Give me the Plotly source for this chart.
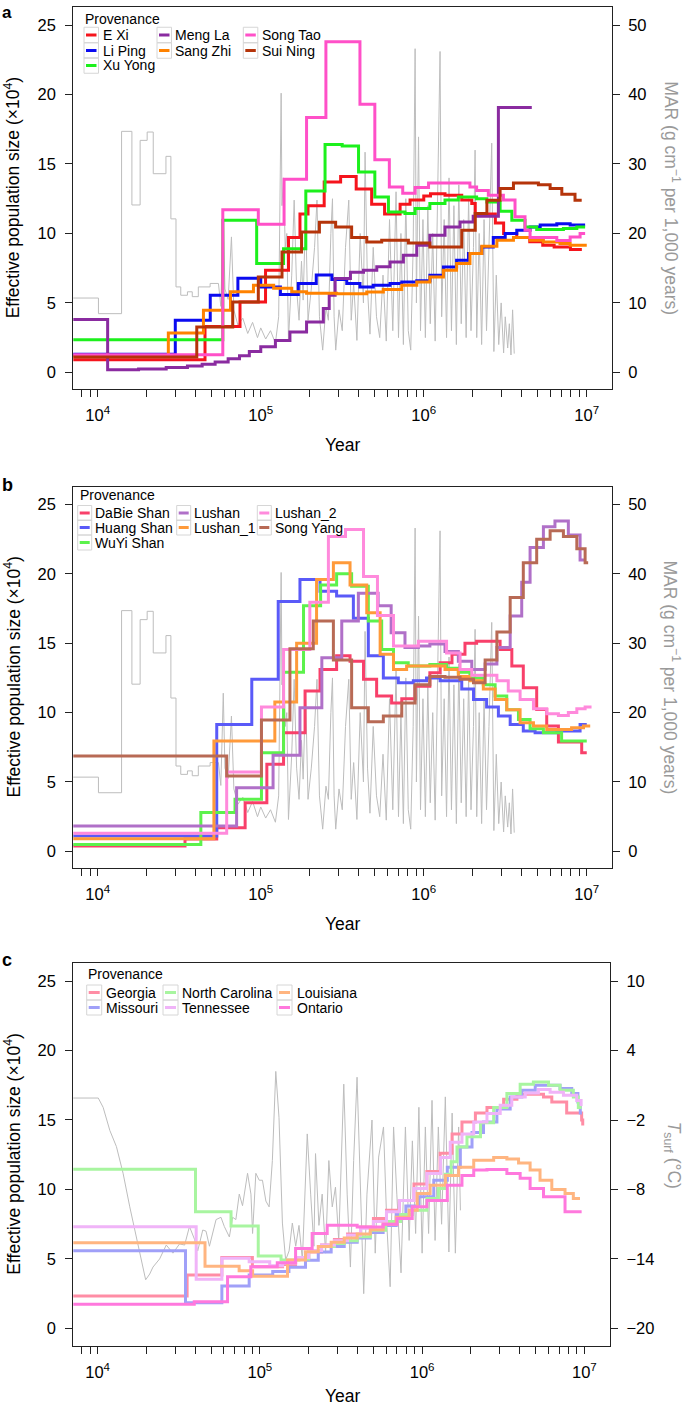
import plotly.graph_objects as go

W, H = 685, 1408
FONT = "Liberation Sans, Arial, Helvetica, sans-serif"

# ====================== DATA ======================
# ---- Panel a: provenances (year, Ne x10^4) ----
exi_year = [6310, 45500, 74600, 107000, 148000, 174000, 195000, 245000, 309000, 385000, 479000, 575000, 716000, 824000,
            1000000, 1100000, 1350000, 1710000, 1970000, 2070000, 2750000, 3090000, 3720000, 4470000, 5370000, 6310000, 7940000, 9330000]
exi_ne = [0.9, 3.3, 5.07, 7.35, 9.7, 11.4, 12.0, 13.7, 14.1, 13.2, 12.1, 11.4, 12.1, 12.4,
          12.7, 12.85, 12.75, 12.4, 12.15, 11.4, 10.75, 10.0, 9.7, 9.4, 9.15, 9.03, 8.84, 8.84]

liping_year = [6310, 29900, 49000, 72400, 100000, 132000, 170000, 219000, 273000, 337000, 406000, 490000, 621000, 733000,
               906000, 1090000, 1320000, 1590000, 1880000, 2270000, 2670000, 3160000, 3720000, 4490000, 5180000, 6550000, 7910000, 9770000]
liping_ne = [1.3, 3.75, 5.55, 6.78, 6.15, 5.6, 6.39, 7.0, 6.68, 6.39, 6.15, 6.27, 6.39, 6.5,
             6.6, 6.99, 7.59, 8.07, 8.55, 9.03, 9.7, 10.0, 10.23, 10.47, 10.6, 10.7, 10.6, 10.6]

xuyong_year = [6310, 58500, 94400, 138000, 189000, 248000, 316000, 398000, 501000, 607000, 767000, 885000,
               1090000, 1350000, 1630000, 2110000, 2440000, 2940000, 3470000, 4180000, 4930000, 7190000, 8690000, 9770000]
xuyong_ne = [2.35, 10.95, 7.83, 8.9, 13.06, 16.4, 16.3, 14.43, 12.63, 11.55, 11.43, 11.8,
             12.15, 12.4, 12.63, 12.5, 12.27, 11.6, 10.95, 10.47, 10.28, 10.35, 10.47, 10.47]

mengla_year = [6310, 11500, 17800, 26300, 35500, 43700, 52500, 63100, 74100, 85100, 100000, 123000, 151000, 191000, 242000,
               263000, 286000, 355000, 427000, 515000, 621000, 750000, 906000, 1090000, 1350000, 1670000, 2010000, 2870000, 4600000]
mengla_ne = [3.8, 0.19, 0.25, 0.35, 0.45, 0.58, 0.75, 0.98, 1.2, 1.5, 1.85, 2.3, 2.9, 3.63, 4.59,
             5.55, 6.75, 7.2, 7.35, 7.6, 7.95, 8.43, 9.15, 9.87, 10.47, 10.83, 11.24, 19.07, 19.07]

sangzhi_year = [6310, 27100, 44500, 65200, 90200, 120000, 155000, 191000, 292000, 447000, 565000, 733000, 906000,
                1090000, 1320000, 1590000, 1920000, 2270000, 2810000, 3550000, 4490000, 5420000, 6850000, 7910000, 10000000]
sangzhi_ne = [1.17, 2.83, 4.47, 5.8, 6.27, 6.05, 5.8, 5.7, 5.65, 5.79, 5.96, 6.27, 6.5,
              6.87, 7.35, 7.83, 8.55, 9.08, 9.51, 9.7, 9.51, 9.39, 9.27, 9.15, 9.15]

songtao_year = [6310, 58500, 96600, 139000, 191000, 251000, 406000, 501000, 615000, 743000, 885000, 1070000,
                1920000, 2110000, 2490000, 3080000, 3630000, 4180000, 4490000, 6550000, 7910000, 9100000, 9770000]
songtao_ne = [1.27, 11.7, 10.66, 13.9, 18.35, 23.8, 19.3, 15.3, 13.35, 12.9, 13.3, 13.64,
              13.35, 13.1, 12.75, 12.4, 11.2, 10.23, 9.7, 9.5, 9.75, 10.0, 10.0]

suining_year = [6310, 40500, 67300, 96600, 135000, 178000, 229000, 288000, 361000, 447000, 552000, 805000,
                1090000, 1710000, 2070000, 2440000, 2940000, 3550000, 5050000, 5960000, 7030000, 8470000, 9310000]
suining_ne = [1.1, 3.27, 5.07, 6.87, 8.67, 10.1, 10.8, 10.47, 9.7, 9.39, 9.51, 9.32,
              9.03, 10.23, 11.43, 12.39, 13.23, 13.64, 13.5, 13.23, 12.82, 12.39, 12.39]

# ---- Panel b ----
dabie_year = [6310, 34300, 53700, 80200, 109000, 138000, 187000, 231000, 292000, 353000, 427000, 514000, 635000, 733000,
              885000, 1090000, 1260000, 1490000, 1790000, 2110000, 2940000, 3470000, 4080000, 4930000, 5680000, 6700000, 9310000, 10000000]
dabie_ne = [0.38, 0.9, 1.7, 3.5, 6.27, 8.55, 11.55, 13.1, 14.1, 13.7, 12.4, 11.2, 10.7, 11.0,
            11.9, 12.87, 13.6, 14.2, 15.0, 15.15, 14.55, 13.35, 11.8, 10.23, 9.03, 7.88, 7.1, 7.1]

huang_year = [6310, 53700, 88100, 128000, 174000, 231000, 292000, 370000, 457000, 565000, 698000, 863000,
              1040000, 1260000, 1710000, 2020000, 2430000, 2870000, 3390000, 4080000, 4820000, 6550000, 9100000, 10000000]
huang_ne = [1.1, 9.15, 12.4, 18.0, 19.6, 18.75, 18.4, 16.8, 14.1, 12.5, 12.15, 12.3,
            12.5, 12.3, 11.7, 10.95, 10.4, 9.75, 9.15, 8.67, 8.55, 8.67, 9.15, 9.15]

wuyi_year = [6310, 42900, 69500, 101000, 138000, 183000, 233000, 292000, 361000, 457000, 552000, 652000, 803000,
             1090000, 1380000, 1630000, 1920000, 2320000, 2740000, 3230000, 3810000, 4490000, 5420000, 7010000, 10000000]
wuyi_ne = [0.5, 2.8, 3.75, 7.1, 12.9, 17.7, 19.2, 20.0, 19.1, 16.6, 14.55, 13.6, 13.35,
           13.47, 13.2, 12.9, 12.5, 12.0, 11.2, 10.2, 9.5, 8.84, 8.55, 7.95, 7.95]

lushan_year = [6310, 71100, 119000, 174000, 237000, 314000, 397000, 525000, 631000, 767000, 927000, 1090000,
               1350000, 1630000, 1970000, 2380000, 2810000, 3390000, 3990000, 4490000, 5420000, 6380000, 7710000, 9100000, 9770000]
lushan_ne = [1.83, 4.59, 6.92, 10.35, 13.95, 16.6, 18.6, 17.7, 15.75, 14.7, 14.8, 14.95,
             14.4, 13.7, 13.1, 13.5, 14.7, 16.96, 19.4, 21.9, 23.4, 23.8, 22.8, 21.0, 21.0]

lushan1_year = [6310, 51600, 122000, 166000, 220000, 279000, 353000, 447000, 540000, 652000, 785000, 1350000,
                1630000, 1920000, 2320000, 2740000, 3230000, 3900000, 4710000, 5680000, 8070000, 9550000, 10500000]
lushan1_ne = [0.91, 7.95, 10.76, 15.0, 19.6, 20.8, 19.2, 17.2, 14.2, 13.1, 13.35, 13.1,
              12.6, 12.3, 11.7, 10.95, 10.2, 9.27, 9.03, 8.79, 8.9, 9.03, 9.03]

lushan2_year = [6310, 61800, 101000, 138000, 200000, 260000, 331000, 427000, 520000, 652000, 927000, 1380000,
                1670000, 1970000, 2810000, 3300000, 3900000, 4710000, 5680000, 6700000, 7710000, 8690000, 9770000, 10700000]
lushan2_ne = [1.3, 5.72, 10.4, 14.55, 17.96, 22.7, 23.2, 19.8, 17.0, 14.8, 15.15, 14.3,
              13.1, 12.7, 12.3, 11.55, 10.95, 10.28, 9.92, 9.8, 10.0, 10.28, 10.4, 10.4]

songyang_year = [6310, 61800, 101000, 151000, 210000, 279000, 361000, 457000, 565000, 733000, 885000, 1090000,
                 1350000, 1670000, 2020000, 2380000, 2810000, 3390000, 4080000, 4930000, 5960000, 7190000, 8690000, 9770000, 10200000]
songyang_ne = [6.87, 5.43, 9.46, 14.6, 16.6, 13.8, 10.35, 9.34, 9.75, 10.7, 12.0, 12.6,
               12.55, 12.4, 12.15, 13.8, 15.8, 18.3, 20.8, 22.5, 23.1, 22.7, 21.8, 20.8, 20.8]

# ---- Panel c ----
georgia_year = [6310, 35600, 58300, 89900, 138000, 166000, 200000, 240000, 288000, 347000, 417000, 501000, 603000, 724000,
                891000, 1070000, 1290000, 1530000, 1760000, 2130000, 2510000, 3180000, 3840000, 5600000, 6300000, 7780000, 9620000, 9770000]
georgia_ne = [2.33, 3.84, 5.1, 4.43, 4.6, 5.0, 5.5, 6.0, 6.4, 6.8, 7.3, 7.9, 8.5, 9.2,
              10.4, 11.3, 12.6, 14.0, 14.86, 15.5, 15.9, 16.5, 16.85, 16.66, 16.3, 15.5, 15.0, 14.6]

missouri_year = [6310, 34800, 58300, 85900, 120000, 151000, 191000, 229000, 275000, 331000, 398000, 479000, 575000, 692000, 794000,
                 955000, 1180000, 1430000, 1720000, 2030000, 2390000, 2890000, 3490000, 4120000, 4980000, 7080000, 8360000, 9120000, 9440000, 9660000]
missouri_ne = [5.59, 1.85, 3.05, 3.84, 4.1, 4.4, 4.9, 5.5, 5.9, 6.2, 6.5, 6.9, 7.4, 8.2, 8.8,
               9.47, 10.67, 11.6, 13.06, 14.1, 14.86, 15.8, 16.66, 17.14, 17.5, 17.26, 16.9, 16.3, 15.5, 15.5]

ncarolina_year = [6310, 40100, 66400, 97700, 135000, 174000, 200000, 240000, 288000, 331000, 398000, 481000, 596000, 736000, 869000,
                  1070000, 1260000, 1390000, 1510000, 1640000, 1890000, 2290000, 2760000, 3330000, 4020000, 4850000, 6010000, 7080000, 8550000, 9180000, 9620000]
ncarolina_ne = [11.46, 8.39, 7.36, 5.2, 4.92, 5.0, 5.6, 5.9, 6.1, 6.3, 6.6, 7.07, 7.7, 8.2, 8.5,
                9.35, 10.07, 11.1, 12.0, 13.06, 13.8, 14.8, 15.9, 16.9, 17.57, 17.74, 17.5, 17.14, 16.66, 15.9, 15.9]

tennessee_year = [6310, 40500, 58300, 85900, 115000, 138000, 166000, 200000, 240000, 288000, 347000, 417000, 501000, 603000, 724000,
                  889000, 1070000, 1300000, 1490000, 1760000, 2080000, 2510000, 3030000, 3570000, 4320000, 5210000, 6150000, 7430000, 8970000, 9550000]
tennessee_ne = [7.31, 3.53, 5.04, 4.8, 4.5, 4.7, 5.1, 5.6, 6.0, 6.3, 6.7, 7.2, 7.7, 8.4, 9.2,
                10.07, 11.15, 12.3, 13.4, 14.0, 14.86, 15.46, 16.06, 16.66, 16.95, 17.2, 17.0, 16.78, 16.4, 16.0]

louisiana_year = [6310, 45900, 74500, 90200, 148000, 191000, 229000, 275000, 331000, 398000, 479000, 575000, 692000, 832000,
                  933000, 1120000, 1390000, 1680000, 2080000, 2760000, 3330000, 3930000, 4630000, 5330000, 6300000, 7600000, 8550000, 9400000]
louisiana_ne = [6.16, 4.48, 4.15, 3.76, 4.92, 5.52, 5.9, 6.2, 6.5, 6.8, 7.1, 7.5, 8.0, 8.5,
                9.7, 10.3, 11.0, 11.6, 12.1, 12.3, 12.2, 11.9, 11.4, 10.67, 10.0, 9.7, 9.35, 9.35]

ontario_year = [6310, 39400, 63200, 87900, 128000, 166000, 210000, 260000, 398000, 575000, 701000, 869000,
                1070000, 1430000, 1760000, 2080000, 2510000, 3330000, 4020000, 4630000, 5600000, 7600000, 9620000]
ontario_ne = [1.73, 1.92, 3.72, 4.43, 4.72, 5.75, 6.83, 7.43, 7.3, 7.5, 7.9, 8.75,
              9.2, 10.3, 11.0, 11.4, 11.43, 11.15, 10.8, 10.07, 9.47, 8.39, 8.39]

# ---- Mass accumulation rate (MAR, g cm^-1 per 1,000 years), panels a & b ----
mar_step = [(6310, 10.7), (10100, 8.45), (14000, 34.7), (16200, 24.1), (18200, 33.4), (20100, 34.6), (21900, 28.6),
            (26200, 31.1), (28100, 22.1), (30200, 12.3), (32300, 11.1), (35500, 11.6), (38000, 10.9), (41400, 12.3),
            (48900, 12.8), (55000, 12.8)]
mar_jag = [(55000, 12.8), (56900, 9.5), (58900, 22.8), (60300, 12.0), (63100, 10.5), (66100, 19.5), (68400, 9.0),
           (72400, 6.8), (77600, 7.8), (83200, 5.6), (89100, 7.2), (95500, 5.0), (100000, 6.4), (107200, 4.8),
           (114800, 6.0), (123000, 4.2), (128800, 8.0), (131800, 36.8), (133400, 40.2), (134900, 24.0), (138000, 28.0),
           (141300, 18.0), (144500, 20.0), (147900, 4.6), (154900, 14.0), (160300, 24.8), (166000, 12.0), (171800, 7.5),
           (177800, 16.0), (182000, 10.4), (188400, 22.9), (195000, 7.5), (204200, 12.0), (213800, 18.0), (221300, 24.8),
           (229100, 8.0), (239900, 3.2), (251200, 9.4), (260000, 7.5), (269200, 20.0), (275400, 25.0), (281800, 8.0),
           (288400, 3.2), (302000, 9.0), (316200, 6.0), (331100, 18.0), (346700, 24.8), (358900, 7.5), (371500, 12.8),
           (389000, 4.6), (407400, 20.0), (426600, 10.0), (436500, 31.7), (451900, 12.0), (467700, 5.5), (489800, 18.0),
           (512900, 8.0), (537000, 5.0), (562300, 14.0), (588800, 4.5), (616600, 22.0), (645700, 6.0), (676100, 26.0),
           (699800, 5.0), (724400, 20.0), (749900, 4.0), (776200, 25.0), (803500, 6.0), (831800, 3.2), (861000, 18.0),
           (885100, 46.6), (901600, 10.0), (929000, 33.9), (955000, 6.0), (988500, 22.0), (1023000, 5.0), (1059000, 24.0),
           (1096000, 7.0), (1135000, 20.0), (1175000, 4.5), (1216000, 26.0), (1259000, 46.2), (1288000, 8.0),
           (1334000, 22.0), (1380000, 5.0), (1429000, 28.0), (1479000, 6.0), (1531000, 24.0), (1585000, 4.0),
           (1641000, 27.0), (1698000, 7.0), (1758000, 22.0), (1820000, 5.0), (1884000, 25.0), (1950000, 6.0),
           (2018000, 18.0), (2065000, 32.0), (2113000, 5.0), (2188000, 20.0), (2265000, 4.0), (2344000, 22.0),
           (2427000, 6.0), (2512000, 18.0), (2612000, 33.0), (2692000, 3.0), (2786000, 14.0), (2884000, 4.0),
           (2985000, 10.0), (3090000, 2.8), (3162000, 8.0), (3273000, 3.5), (3350000, 7.0), (3428000, 2.5),
           (3508000, 9.0), (3589000, 2.7)]

# ---- Surface temperature (T_surf, deg C), panel c ----
tsurf = [(6310, -0.1), (10090, -0.1), (10810, -0.9), (11890, -2.9), (13060, -4.3), (14350, -6.6), (15780, -9.5),
         (17340, -12.1), (18620, -14.1), (19770, -15.8), (20940, -15.3), (21930, -14.7), (24100, -14.0), (26490, -12.8),
         (29110, -13.5), (31990, -12.7), (34360, -12.8), (36810, -11.2), (39540, -12.3), (41400, -13.3), (44460, -11.5),
         (46560, -11.6), (48870, -12.9), (53700, -10.6), (57540, -10.4), (60390, -11.2), (64860, -12.1), (67920, -10.4),
         (71120, -10.6), (74640, -8.4), (78160, -9.4), (83950, -6.6), (88100, -8.4), (90160, -11.8), (94410, -6.6),
         (99080, -7.2), (103700, -7.2), (108900, -9.0), (114000, -9.5), (119400, -5.5), (125300, 2.2), (131200, -1.8),
         (137700, -10.9), (144200, -14.1), (151400, -13.3), (158500, -10.9), (166300, -12.9), (174200, -11.1),
         (182800, -14.1), (195900, -3.2), (205600, -8.4), (215300, -12.9), (220300, -4.9), (231200, -11.1),
         (242100, -8.4), (254100, -13.5), (266100, -5.5), (279300, -9.5), (292400, -7.8), (306200, -12.4),
         (328900, 1.1), (345100, -8.4), (361400, -14.7), (378400, -5.5), (397200, 1.7), (415900, -8.4),
         (436500, -17.0), (457100, -8.4), (490900, -2.0), (514000, -13.5), (539500, -5.2), (578100, -2.6),
         (606700, -11.2), (635300, -16.4), (666800, -2.6), (698200, -8.4), (741300, -15.2), (788900, -2.6),
         (831800, -12.4), (871000, -3.8), (912000, -11.8), (955000, -0.9), (1000000, -13.5), (1047000, -2.6),
         (1096000, -11.8), (1151000, -0.3), (1202000, -12.4), (1259000, -2.6), (1318000, -11.0), (1390000, 0.0),
         (1462000, -13.4), (1531000, -1.4), (1603000, -13.5), (1679000, -2.6), (1722000, -9.8)]

# names / colours
a_names = ["E Xi", "Li Ping", "Xu Yong", "Meng La", "Sang Zhi", "Song Tao", "Sui Ning"]
a_colors = ["#F5141C", "#0B0BF0", "#1CF01C", "#8A2BA0", "#FF8200", "#FF50C8", "#B5340A"]
b_names = ["DaBie Shan", "Huang Shan", "WuYi Shan", "Lushan", "Lushan_1", "Lushan_2", "Song Yang"]
b_colors = ["#F8406A", "#5A5AF8", "#5CF24C", "#B070C8", "#FF9A3A", "#FF8ADC", "#B86A55"]
c_names = ["Georgia", "Missouri", "North Carolina", "Tennessee", "Louisiana", "Ontario"]
c_colors = ["#FF8DA5", "#A0A0F8", "#A8F5A0", "#F0B4F8", "#FFB580", "#FF78DD"]

a_data = [(exi_year, exi_ne), (liping_year, liping_ne), (xuyong_year, xuyong_ne), (mengla_year, mengla_ne),
          (sangzhi_year, sangzhi_ne), (songtao_year, songtao_ne), (suining_year, suining_ne)]
b_data = [(dabie_year, dabie_ne), (huang_year, huang_ne), (wuyi_year, wuyi_ne), (lushan_year, lushan_ne),
          (lushan1_year, lushan1_ne), (lushan2_year, lushan2_ne), (songyang_year, songyang_ne)]
c_data = [(georgia_year, georgia_ne), (missouri_year, missouri_ne), (ncarolina_year, ncarolina_ne),
          (tennessee_year, tennessee_ne), (louisiana_year, louisiana_ne), (ontario_year, ontario_ne)]

# ====================== FIGURE ======================
GREY = "#BDBDBD"
fig = go.Figure()


def unzip(pairs):
    return [p[0] for p in pairs], [p[1] for p in pairs]


def add_grey(pairs, xa, ya, shape):
    xs, ys = unzip(pairs)
    fig.add_trace(go.Scatter(x=xs, y=ys, mode="lines", xaxis=xa, yaxis=ya, hoverinfo="skip",
                             line=dict(color=GREY, width=1, shape=shape), showlegend=False))


def add_series(data, colors, names, xa, ya):
    for (xs, ys), col, nm in zip(data, colors, names):
        fig.add_trace(go.Scatter(x=xs, y=ys, mode="lines", name=nm, xaxis=xa, yaxis=ya, hoverinfo="skip",
                                 line=dict(color=col, width=3, shape="hv"), showlegend=False))


# Panel a
add_grey(mar_step, "x", "y", "hv")
add_grey(mar_jag, "x", "y", "linear")
add_series(a_data, a_colors, a_names, "x", "y2")
# Panel b
add_grey(mar_step, "x2", "y3", "hv")
add_grey(mar_jag, "x2", "y3", "linear")
add_series(b_data, b_colors, b_names, "x2", "y4")
# Panel c
add_grey(tsurf, "x3", "y5", "linear")
add_series(c_data, c_colors, c_names, "x3", "y6")

# ---- axes ----
LINE = "#222222"
major_vals = [10 ** k for k in range(4, 8)]
major_text = [f"10<sup>{k}</sup>" for k in range(4, 8)]
minor_vals = [m * 10 ** k for k in range(3, 8) for m in range(2, 10)]

tickfont = dict(family=FONT, size=16.5, color="black")


def xcfg(domain, anchor, rng):
    return dict(type="log", range=rng, domain=domain, anchor=anchor, tickmode="array",
                tickvals=major_vals, ticktext=major_text, ticks="outside", ticklen=7, tickwidth=1.2,
                tickcolor=LINE, showline=True, linecolor=LINE, linewidth=1.3, mirror=True,
                minor=dict(tickmode="array", tickvals=minor_vals, ticks="outside", ticklen=7, tickwidth=1.2,
                           tickcolor=LINE, showgrid=False),
                showgrid=False, zeroline=False, tickfont=tickfont, ticklabelstandoff=4)


def yright(domain, anchor, rng, vals):
    return dict(domain=domain, anchor=anchor, side="right", range=rng, tickmode="array", tickvals=vals,
                ticks="outside", ticklen=7, tickwidth=1.2, tickcolor=LINE, showline=True, linecolor=LINE,
                linewidth=1.3, showgrid=False, zeroline=False, tickfont=tickfont, ticklabelstandoff=5)


def yleft(over, anchor, rng):
    return dict(overlaying=over, anchor=anchor, side="left", range=rng, tickmode="array",
                tickvals=[0, 5, 10, 15, 20, 25], ticks="outside", ticklen=7, tickwidth=1.2, tickcolor=LINE,
                showline=True, linecolor=LINE, linewidth=1.3, showgrid=False, zeroline=False,
                tickfont=tickfont, ticklabelstandoff=6)


def dom_y(top_px, bot_px):
    return [1 - bot_px / H, 1 - top_px / H]


xdom_ab = [73.3 / W, 611.7 / W]
xdom_c = [73.3 / W, 610.0 / W]
ne_rng = [-1.22, 26.28]

layout_axes = dict(
    xaxis=xcfg(xdom_ab, "y", [3.85, 7.153]),
    yaxis=yright(dom_y(7.3, 389.3), "x", [-2.44, 52.56], [0, 10, 20, 30, 40, 50]),
    yaxis2=yleft("y", "x", ne_rng),
    xaxis2=xcfg(xdom_ab, "y3", [3.85, 7.153]),
    yaxis3=yright(dom_y(486.7, 868.3), "x2", [-2.44, 52.56], [0, 10, 20, 30, 40, 50]),
    yaxis4=yleft("y3", "x2", ne_rng),
    xaxis3=xcfg(xdom_c, "y5", [3.85, 7.158]),
    yaxis5=yright(dom_y(963.3, 1346.0), "x3", [-21.52, 11.54], [-20, -14, -8, -2, 4, 10]),
    yaxis6=yleft("y5", "x3", [-1.27, 26.28]),
)

# ---- annotations & legend shapes ----
ann, shapes = [], []


def P(x, y):
    return x / W, 1 - y / H


def text(t, x, y, size, color="black", angle=0, xanchor="center", yanchor="middle", bold=False):
    xx, yy = P(x, y)
    ann.append(dict(text=(f"<b>{t}</b>" if bold else t), x=xx, y=yy, xref="paper", yref="paper",
                    xanchor=xanchor, yanchor=yanchor, showarrow=False, textangle=angle,
                    font=dict(family=FONT, size=size, color=color)))


YT = "Effective population size (×10<sup>4</sup>)"
MART = "MAR (g cm<sup>−1</sup> per 1,000 years)"
TT = "<i>T</i><sub>surf</sub> (°C)"
GT = "#9A9A9A"
for top, bot, rt, yr in [(7.3, 389.3, MART, 444.5), (486.7, 868.3, MART, 923.5), (963.3, 1346.0, TT, 1395.5)]:
    mid = (top + bot) / 2
    text(YT, 12, mid, 17.5, angle=-90)
    text(rt, 672, mid, 17.5, color=GT, angle=90)
    text("Year", 342.5, yr, 17.5)

text("a", 0, 0.5, 17, xanchor="left", yanchor="top", bold=True)
text("b", 0, 485, 18, xanchor="left", bold=True)
text("c", 0, 960, 18, xanchor="left", bold=True)


def legend(title_xy, rows_y, key_x, txt_x, key_w, key_h, columns, cmap):
    text("Provenance", title_xy[0], title_xy[1], 14, xanchor="left")
    for ci, col in enumerate(columns):
        for ri, nm in enumerate(col):
            cy = rows_y[ri]
            x0 = key_x[ci]
            bx0, by0 = P(x0, cy + key_h / 2)
            bx1, by1 = P(x0 + key_w, cy - key_h / 2)
            shapes.append(dict(type="rect", xref="paper", yref="paper", x0=bx0, y0=by0, x1=bx1, y1=by1,
                               line=dict(color="#D6D6D6", width=1), fillcolor="rgba(0,0,0,0)"))
            lx0, ly = P(x0 + 2, cy)
            lx1, _ = P(x0 + key_w - 2, cy)
            shapes.append(dict(type="line", xref="paper", yref="paper", x0=lx0, y0=ly, x1=lx1, y1=ly,
                               line=dict(color=cmap[nm], width=3)))
            text(nm, txt_x[ci], cy, 14, xanchor="left")


legend((83, 18.5), [35, 50.5, 65.5], [84, 157, 243.3], [100.5, 173, 259.5], 14.5, 15.5,
       [["E Xi", "Li Ping", "Xu Yong"], ["Meng La", "Sang Zhi"], ["Song Tao", "Sui Ning"]],
       dict(zip(a_names, a_colors)))
legend((78, 495), [513, 527.5, 542.5], [77.7, 176.7, 257.3], [93, 192, 273], 14, 15,
       [["DaBie Shan", "Huang Shan", "WuYi Shan"], ["Lushan", "Lushan_1"], ["Lushan_2", "Song Yang"]],
       dict(zip(b_names, b_colors)))
legend((86, 974), [992.5, 1007.5], [86.7, 163, 277], [103.5, 180.5, 294.5], 15, 15,
       [["Georgia", "Missouri"], ["North Carolina", "Tennessee"], ["Louisiana", "Ontario"]],
       dict(zip(c_names, c_colors)))

fig.update_layout(
    width=W, height=H, autosize=False,
    margin=dict(l=0, r=0, t=0, b=0, pad=0),
    plot_bgcolor="white", paper_bgcolor="white",
    font=dict(family=FONT, size=15, color="black"),
    showlegend=False, hovermode=False,
    annotations=ann, shapes=shapes,
    **layout_axes,
)

fig.write_html("out.html", config={"displayModeBar": False},
               post_script="document.body.style.margin='0';document.body.style.overflow='hidden';")
